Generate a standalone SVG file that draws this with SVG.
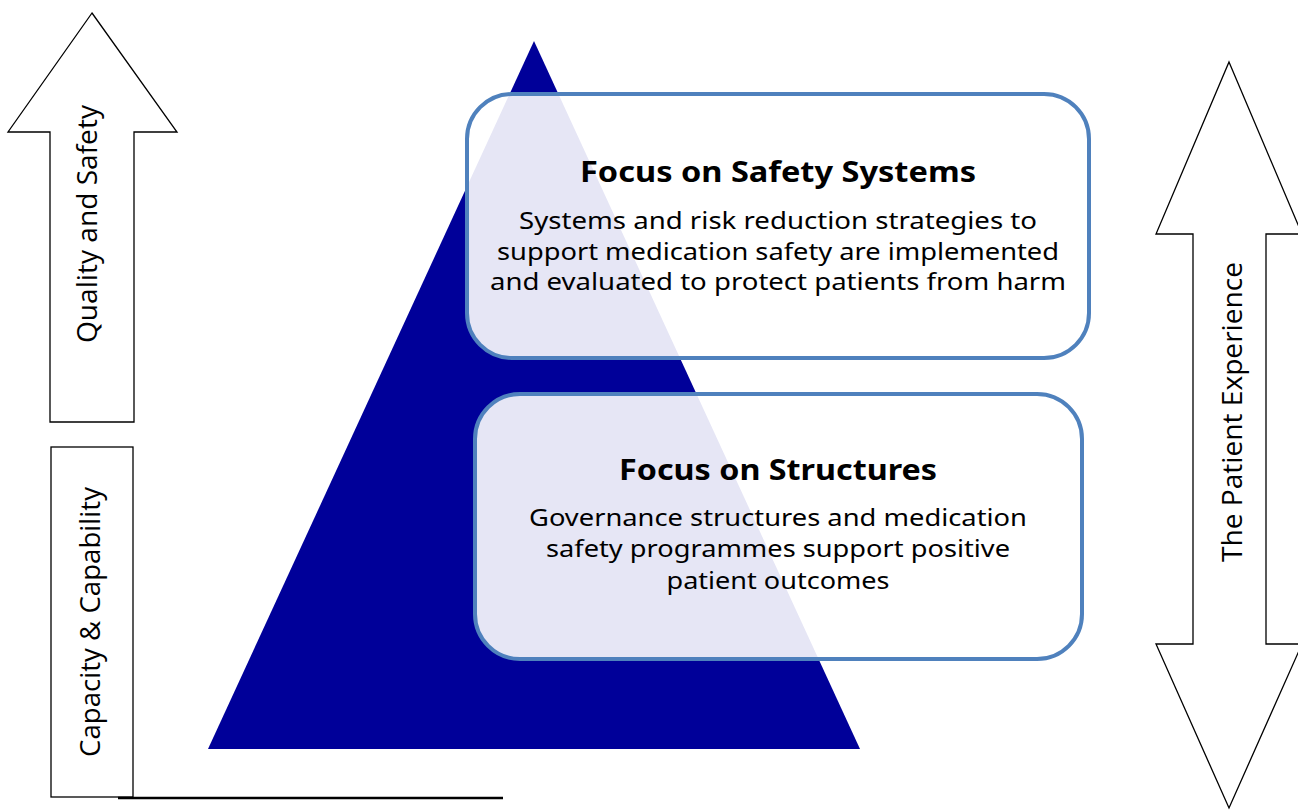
<svg xmlns="http://www.w3.org/2000/svg" width="1298" height="812" viewBox="0 0 1298 812">
  <style>
    .outline { fill: #ffffff; stroke: #000000; stroke-width: 1.3; }
    .card { fill: #ffffff; fill-opacity: 0.9; stroke: #4f81bd; stroke-width: 4; }
    .side { font-family: "Open Sans", "Noto Sans", sans-serif; font-size: 27px; fill: #000000; text-anchor: middle; }
    .title { font-family: "Noto Sans", "DejaVu Sans", sans-serif; font-size: 28px; font-weight: bold; fill: #000000; text-anchor: middle; }
    .body { font-family: "Noto Sans", "DejaVu Sans", sans-serif; font-size: 24px; fill: #000000; text-anchor: middle; }
  </style>

  <rect width="1298" height="812" fill="#ffffff"/>

  <!-- pyramid -->
  <g id="pyramid">
    <polygon points="534,41 860,749 208,749" fill="#000099"/>
  </g>

  <!-- left upward arrow -->
  <g id="quality-safety">
    <polygon class="outline" points="92,13 177,132 134,132 134,422 50,422 50,132 8,132"/>
    <text class="side" transform="translate(97,224) rotate(-90)" textLength="238" lengthAdjust="spacingAndGlyphs">Quality and Safety</text>
  </g>

  <!-- left base box -->
  <g id="capacity-capability">
    <rect class="outline" x="51" y="447" width="82" height="350"/>
    <text class="side" transform="translate(100,622) rotate(-90)" textLength="270" lengthAdjust="spacingAndGlyphs">Capacity &amp; Capability</text>
  </g>

  <!-- base rule -->
  <g id="connectors">
    <line x1="118" y1="798" x2="503" y2="798" stroke="#000000" stroke-width="2.5"/>
  </g>

  <!-- right double-headed arrow -->
  <g id="patient-experience">
    <polygon class="outline" points="1229,62 1302,234 1266,234 1266,644 1302,644 1229,808 1156,644 1193,644 1193,234 1156,234"/>
    <text class="side" transform="translate(1242,412) rotate(-90)" textLength="300" lengthAdjust="spacingAndGlyphs">The Patient Experience</text>
  </g>

  <!-- upper card -->
  <g id="safety-systems">
    <rect class="card" x="467" y="94" width="622" height="264" rx="45" ry="45"/>
    <text class="title" x="778" y="182" textLength="396" lengthAdjust="spacingAndGlyphs">Focus on Safety Systems</text>
    <text class="body" x="778" y="229" textLength="518" lengthAdjust="spacingAndGlyphs">Systems and risk reduction strategies to</text>
    <text class="body" x="778" y="260" textLength="562" lengthAdjust="spacingAndGlyphs">support medication safety are implemented</text>
    <text class="body" x="778" y="290" textLength="576" lengthAdjust="spacingAndGlyphs">and evaluated to protect patients from harm</text>
  </g>

  <!-- lower card -->
  <g id="structures">
    <rect class="card" x="475" y="394" width="607" height="265" rx="45" ry="45"/>
    <text class="title" x="778" y="480" textLength="318" lengthAdjust="spacingAndGlyphs">Focus on Structures</text>
    <text class="body" x="778" y="526" textLength="498" lengthAdjust="spacingAndGlyphs">Governance structures and medication</text>
    <text class="body" x="778" y="557" textLength="464" lengthAdjust="spacingAndGlyphs">safety programmes support positive</text>
    <text class="body" x="778" y="589" textLength="223" lengthAdjust="spacingAndGlyphs">patient outcomes</text>
  </g>
</svg>
